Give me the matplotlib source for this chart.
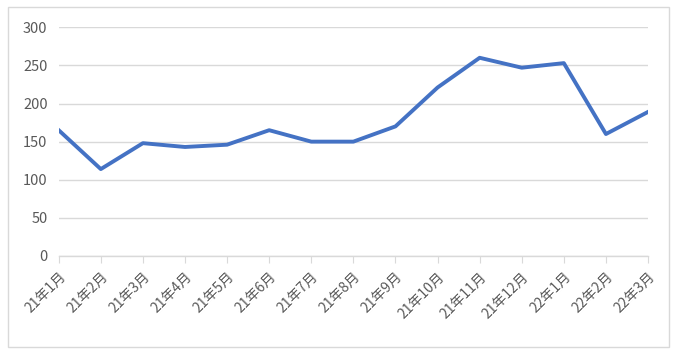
import matplotlib.pyplot as plt
from matplotlib.patches import Rectangle

plt.rcParams['font.family'] = ['Noto Sans CJK SC', 'DejaVu Sans']

# data ------------------------------------------------------------
months = ["21年1月", "21年2月", "21年3月", "21年4月", "21年5月", "21年6月",
          "21年7月", "21年8月", "21年9月", "21年10月", "21年11月", "21年12月",
          "22年1月", "22年2月", "22年3月"]
values = [165, 114, 148, 143, 146, 165, 150, 150, 170, 221, 260, 247, 253, 160, 189]
yticks = [0, 50, 100, 150, 200, 250, 300]

# plot ------------------------------------------------------------
fig = plt.figure(figsize=(6.78, 3.53), dpi=100)
ax = fig.add_axes([0.0866, 0.2748, 0.8692, 0.6479])

x = list(range(len(months)))
ax.plot(x, values, color='#4472C4', linewidth=2.8, solid_joinstyle='round', zorder=3)

ax.set_xlim(0, len(months) - 1)
ax.set_ylim(0, 300)
ax.set_yticks(yticks)
ax.set_xticks(x)
ax.set_xticklabels(months, rotation=45, ha='right', rotation_mode='anchor')

ax.grid(axis='y', color='#d9d9d9', linewidth=1)
ax.set_axisbelow(True)
for s in ['top', 'right', 'left']:
    ax.spines[s].set_visible(False)
ax.spines['bottom'].set_color('#d9d9d9')
ax.spines['bottom'].set_linewidth(1)

ax.tick_params(axis='y', length=0, pad=8, labelsize=10.5, labelcolor='#595959')
ax.tick_params(axis='x', length=5, color='#d9d9d9', pad=5, labelsize=10, labelcolor='#595959')

# outer chart border
fig.patches.append(Rectangle((8 / 678, 6 / 353), 661 / 678, 340 / 353,
                             transform=fig.transFigure, fill=False,
                             edgecolor='#d9d9d9', linewidth=1))

plt.savefig('out.png', dpi=100)
